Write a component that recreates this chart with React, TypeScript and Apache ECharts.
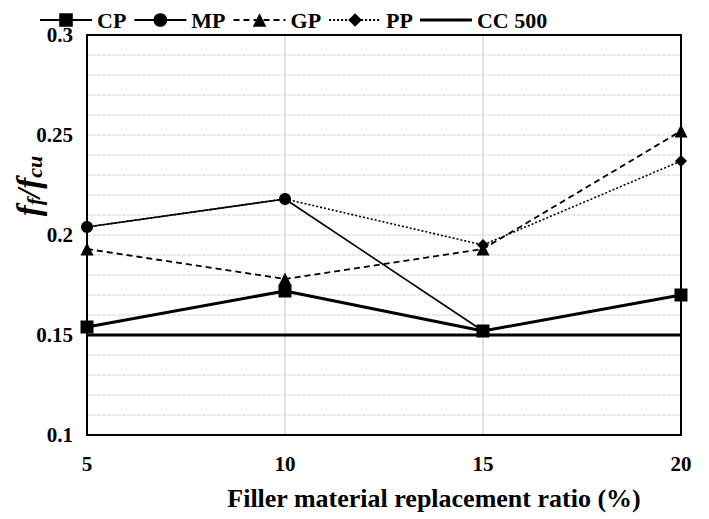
import React, { useEffect, useRef } from "react";
import * as echarts from "echarts";

const ratios = [5, 10, 15, 20];
const cp = [0.154, 0.172, 0.152, 0.170];
const mp = [0.204, 0.218, 0.152, 0.170];
const gp = [0.193, 0.178, 0.193, 0.252];
const pp = [0.204, 0.218, 0.195, 0.237];
const cc500 = [0.15, 0.15, 0.15, 0.15];
const yTicks = ["0.1", "0.15", "0.2", "0.25", "0.3"];

const FONT = "'Liberation Serif', 'Times New Roman', serif";

export default function App() {
  const ref = useRef<HTMLDivElement>(null);
  useEffect(() => {
    if (!ref.current) return;
    const chart = echarts.init(ref.current, null, { renderer: "svg" });
    const pts = (arr: number[]) => ratios.map((x, i) => [x, arr[i]]);
    const base = { type: "line", z: 3 };
    chart.setOption({
      animation: false,
      backgroundColor: "#fff",
      textStyle: { fontFamily: FONT },
      legend: {
        top: 4,
        left: 34,
        itemWidth: 52,
        itemHeight: 17,
        itemGap: 7,
        textStyle: { fontFamily: FONT, fontWeight: "bold", fontSize: 22, color: "#000" },
        data: [
          "CP",
          "MP",
          "GP",
          "PP",
          {
            name: "CC 500",
            icon: "path://M0,0L0.01,0L0.01,0.01ZM0,7L52,7L52,10L0,10ZM51.99,17L52,17L52,16.99Z",
          },
        ],
      },
      grid: {
        left: 87,
        right: 28,
        top: 35,
        bottom: 84,
        show: true,
        borderColor: "#000",
        borderWidth: 2,
        backgroundColor: "transparent",
        z: 10,
      },
      xAxis: {
        type: "value",
        min: 5,
        max: 20,
        interval: 5,
        name: "Filler material replacement ratio (%)",
        nameLocation: "middle",
        nameGap: 50,
        nameTextStyle: {
          fontFamily: FONT,
          fontWeight: "bold",
          fontSize: 26,
          color: "#000",
          padding: [0, 0, 0, 100],
        },
        axisLine: { show: false },
        axisTick: { show: false },
        axisLabel: { fontFamily: FONT, fontWeight: "bold", fontSize: 21, color: "#000", margin: 18 },
        splitLine: { show: true, lineStyle: { color: "#d9d9d9", width: 1.5 } },
      },
      yAxis: {
        type: "value",
        min: 0.1,
        max: 0.3,
        interval: 0.05,
        axisLine: { show: false },
        axisTick: { show: false },
        axisLabel: {
          fontFamily: FONT,
          fontWeight: "bold",
          fontSize: 21,
          color: "#000",
          margin: 14,
          formatter: (v: number) => {
            const s = yTicks.find((t) => Math.abs(parseFloat(t) - v) < 1e-6);
            return s ?? String(+v.toFixed(2));
          },
        },
        splitLine: { show: true, lineStyle: { color: "#e3e3e3", width: 1.5, type: [4, 1] } },
        minorTick: { show: false, splitNumber: 5 },
        minorSplitLine: { show: true, lineStyle: { color: "#e3e3e3", width: 1.5, type: [4, 1] } },
      },
      graphic: [
        {
          type: "text",
          x: 27,
          y: 186,
          rotation: Math.PI / 2,
          style: {
            text: "{f|f}{s|f}{f|/f}{s|cu}",
            align: "center",
            verticalAlign: "middle",
            rich: {
              f: { fontFamily: FONT, fontStyle: "italic", fontWeight: "bold", fontSize: 33, fill: "#000", verticalAlign: "bottom", lineHeight: 36 },
              s: { fontFamily: FONT, fontStyle: "italic", fontWeight: "bold", fontSize: 22, fill: "#000", verticalAlign: "bottom", lineHeight: 36, padding: [12, 0, 0, 0] },
            },
          },
        },
      ],
      series: [
        {
          ...base,
          name: "CP",
          data: pts(cp),
          symbol: "rect",
          symbolSize: 13,
          lineStyle: { color: "#000", width: 3 },
          itemStyle: { color: "#000" },
          z: 5,
        },
        {
          ...base,
          name: "MP",
          data: pts(mp),
          symbol: "circle",
          symbolSize: 12,
          lineStyle: { color: "#000", width: 1.6 },
          itemStyle: { color: "#000" },
        },
        {
          ...base,
          name: "GP",
          data: pts(gp),
          symbol: "triangle",
          symbolSize: 13,
          lineStyle: { color: "#000", width: 1.8, type: [6, 4] },
          itemStyle: { color: "#000" },
        },
        {
          ...base,
          name: "PP",
          data: pts(pp),
          symbol: "diamond",
          symbolSize: 12,
          lineStyle: { color: "#000", width: 1.6, type: [2, 2] },
          itemStyle: { color: "#000" },
        },
        {
          ...base,
          name: "CC 500",
          data: pts(cc500),
          symbol: "none",
          lineStyle: { color: "#000", width: 3 },
          itemStyle: { color: "#000" },
        },
      ],
    });
    return () => chart.dispose();
  }, []);
  return <div ref={ref} style={{ width: 709, height: 519, position: "absolute", left: 0, top: 0 }} />;
}
